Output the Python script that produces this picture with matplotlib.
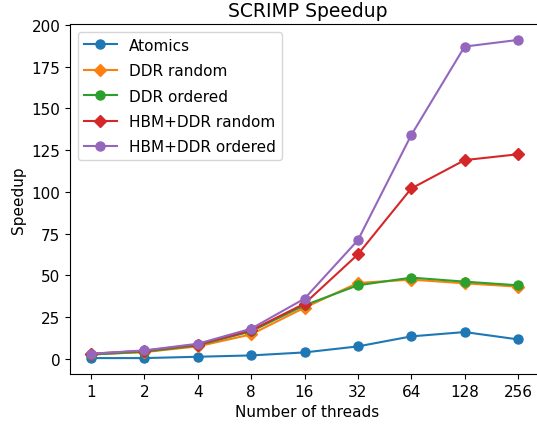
import matplotlib
matplotlib.use('Agg')
import matplotlib.pyplot as plt

threads = [1, 2, 4, 8, 16, 32, 64, 128, 256]

atomics = [0.4, 0.4, 1.2, 2.0, 3.8, 7.4, 13.4, 16.0, 11.6]
ddr_random = [2.6, 4.0, 7.4, 14.6, 30.6, 45.4, 47.4, 45.2, 43.2]
ddr_ordered = [2.5, 4.2, 8.0, 16.4, 32.0, 44.0, 48.6, 46.2, 44.0]
hbm_random = [3.0, 4.8, 8.5, 17.0, 33.0, 62.5, 102.0, 119.0, 122.5]
hbm_ordered = [3.0, 5.0, 9.0, 18.0, 36.0, 71.0, 134.0, 187.0, 191.0]

plt.rcParams['font.size'] = 11

fig = plt.figure(figsize=(5.37, 4.27), dpi=100)
# right edge of the axes falls just past the image edge, as in the reference
ax = fig.add_axes([70 / 537, 1 - 375 / 427, 475 / 537, 350 / 427])

ax.plot(threads, atomics, marker='o', markersize=6.5, label='Atomics')
ax.plot(threads, ddr_random, marker='D', markersize=6.5, label='DDR random')
ax.plot(threads, ddr_ordered, marker='o', markersize=6.5, label='DDR ordered')
ax.plot(threads, hbm_random, marker='D', markersize=6.5, label='HBM+DDR random')
ax.plot(threads, hbm_ordered, marker='o', markersize=6.5, label='HBM+DDR ordered')

ax.set_xscale('log', base=2)
ax.set_xticks(threads)
ax.set_xticklabels([str(t) for t in threads])
ax.minorticks_off()
ax.set_xlim(2 ** (-21 * 8 / 427), 2 ** (8 + 27 * 8 / 427))
ax.spines['right'].set_visible(False)

ax.set_title('SCRIMP Speedup', fontsize=13.5)
ax.set_xlabel('Number of threads')
ax.set_ylabel('Speedup')
ax.legend(loc='upper left', labelspacing=0.68, handlelength=2.15)

fig.savefig('out.png', dpi=100)
